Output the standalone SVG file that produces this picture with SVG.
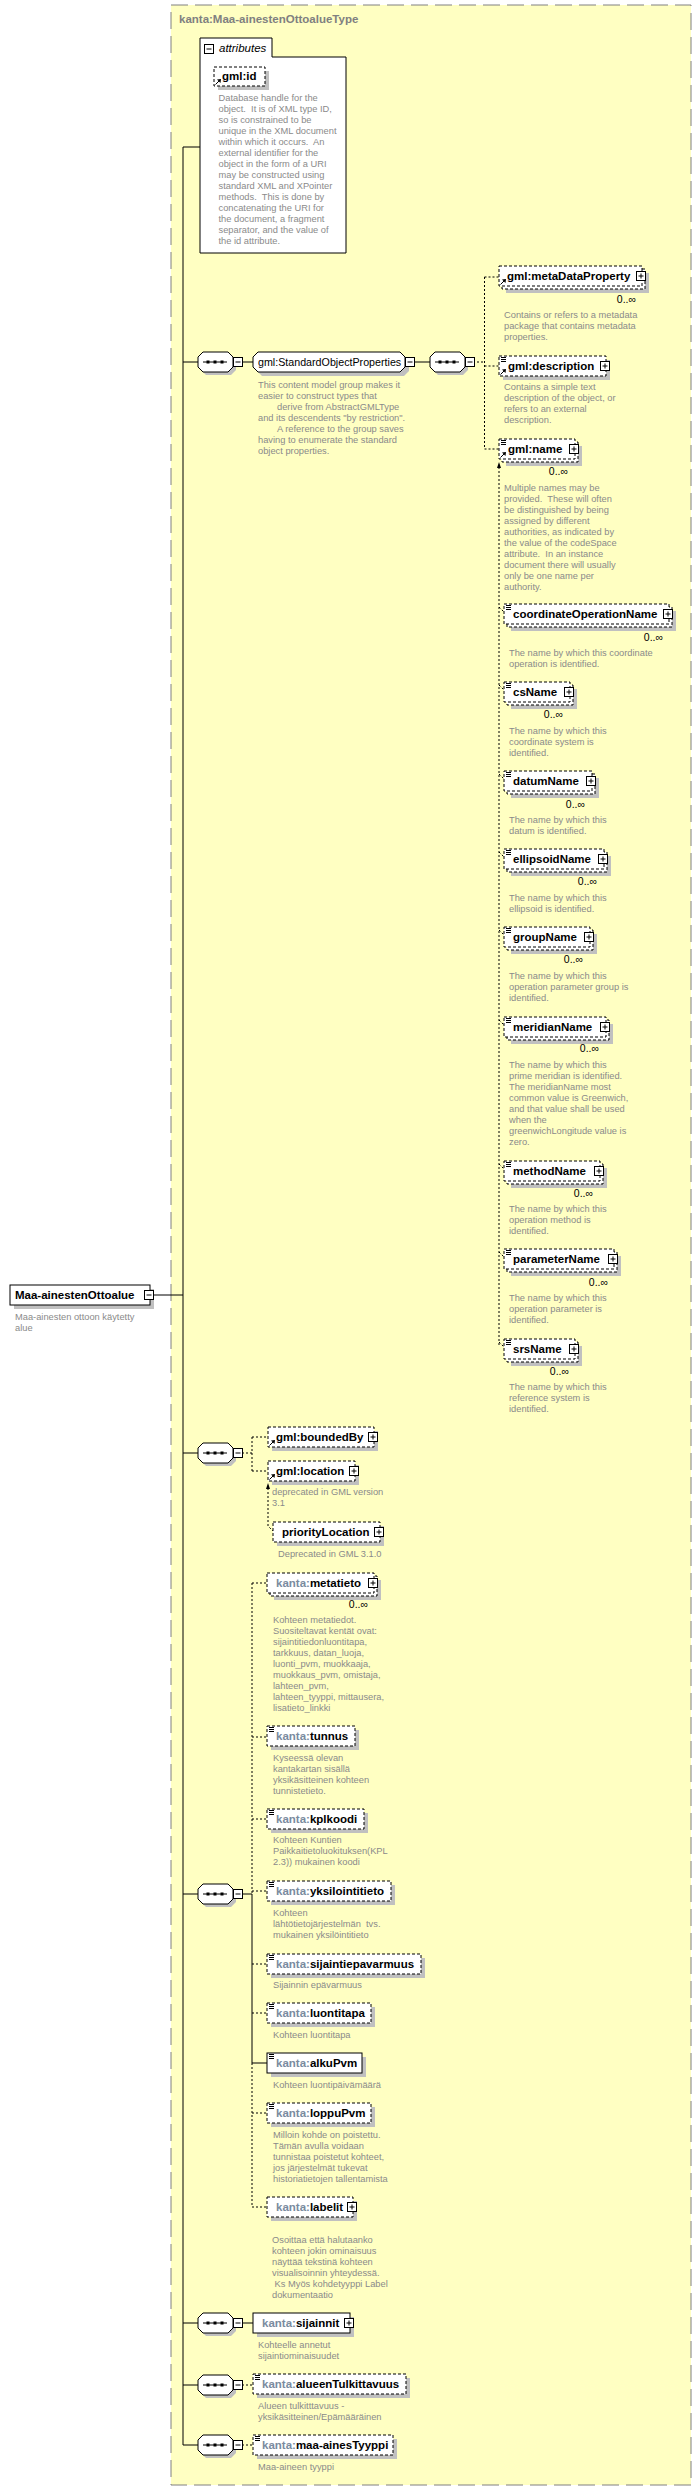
<svg xmlns="http://www.w3.org/2000/svg" width="700" height="2490" viewBox="0 0 700 2490">
<style>
.bg{fill:#ffffc2;stroke:#808080;stroke-dasharray:17,7}
.box{fill:#fff;stroke:#000;stroke-width:1}
.opt{stroke-dasharray:3,2}
.shd{fill:#c0c0c0}
.nm{font-family:"Liberation Sans",Arial,sans-serif;font-weight:bold;font-size:11.5px;fill:#000}
.gn{font-family:"Liberation Sans",Arial,sans-serif;font-size:10.7px;fill:#000}
.pfx{fill:#7a8ba0}
.ttl{font-family:"Liberation Sans",Arial,sans-serif;font-weight:bold;font-size:11.5px;fill:#808080}
.it{font-family:"Liberation Sans",Arial,sans-serif;font-style:italic;font-size:11.5px;fill:#000}
.ds{font-family:"Liberation Sans",Arial,sans-serif;font-size:9.3px;fill:#8a8a8a;white-space:pre}
.mul{font-family:"Liberation Sans",Arial,sans-serif;font-size:10.5px;fill:#000;text-anchor:end}
.ln{fill:none;stroke:#000;stroke-width:1}
.dl{fill:none;stroke:#000;stroke-width:1;stroke-dasharray:2,2}
.ico{fill:none;stroke:#000;stroke-width:1}
</style>
<defs>
<g id="plus"><rect x="0.5" y="0.5" width="9" height="9" fill="#fff" stroke="#000"/><path d="M2.5,5H7.5M5,2.5V7.5" stroke="#000"/></g>
<g id="minus"><rect x="0.5" y="0.5" width="9" height="9" fill="#fff" stroke="#000"/><path d="M2.5,5H7.5" stroke="#000"/></g>
<g id="seq">
<path d="M8,3H33L38,8V18L33,23H8L3,18V8Z" fill="#c0c0c0"/>
<path d="M5,0H30L35,5V15L30,20H5L0,15V5Z" fill="#fff" stroke="#000"/>
<path d="M5,10H29" stroke="#000"/>
<rect x="8.5" y="8.5" width="3" height="3" fill="#000"/><rect x="15.5" y="8.5" width="3" height="3" fill="#000"/><rect x="22.5" y="8.5" width="3" height="3" fill="#000"/>
<use href="#minus" x="35" y="5"/>
</g>
<path id="txt" d="M2,1.5h5M2,3.5h5M2,5.5h5" fill="none" stroke="#000"/>
<g id="ref"><path d="M1.5,-1.5L5,-5" stroke="#000" fill="none"/><polygon points="7,-7 3,-6.5 6.5,-3" fill="#000"/></g>
</defs>

<rect class="bg" x="171" y="5" width="520" height="2480"/>
<text class="ttl" x="179" y="23">kanta:Maa-ainestenOttoalueType</text>

<g id="connectors">
<path class="ln" d="M200,147H183V2445H198"/>
<path class="ln" d="M153,1295H183M183,362H198M183,1453H198M183,1894H198M183,2323H198M183,2385H198"/>
<path class="ln" d="M242,362H253M414,362H430"/>
<path class="dl" d="M473,362H484.5M484.5,277V449M484.5,277H499M484.5,366H499M484.5,449H499"/>
<path class="dl" d="M499,467V1345"/>
<polygon points="499,462 497,468 501,468" fill="#000"/>
<path class="dl" d="M499,607L504,612M499,685L504,690M499,774L504,779M499,852L504,857M499,930L504,935M499,1020L504,1025M499,1164L504,1169M499,1252L504,1257M499,1342L504,1347"/>
<path class="dl" d="M242,1453H252M252,1437V1471M252,1437H268M252,1471H268"/>
<path class="dl" d="M268,1488V1526L273,1531"/>
<polygon points="268,1483 266,1489 270,1489" fill="#000"/>
<path class="ln" d="M242,1894H252V2063H267"/>
<path class="dl" d="M252,1583V1894M252,2063V2207M252,1583H267M252,1737H267M252,1819H267M252,1891H267M252,1964H267M252,2013H267M252,2113H267M252,2207H267"/>
<path class="ln" d="M242,2323H253"/>
<path class="dl" d="M242,2385H253M242,2445H253"/>
</g>

<g id="root">
<rect class="shd" x="14" y="1289" width="140" height="20"/>
<rect class="box" x="10" y="1285" width="140" height="20"/>
<text class="nm" x="15" y="1299">Maa-ainestenOttoalue</text>
<use href="#minus" x="144" y="1290"/>
<text class="ds" x="15" y="1320">Maa-ainesten ottoon käytetty<tspan x="15" dy="11">alue</tspan></text>
</g>

<g id="attributes">
<path class="box" d="M200,253V38H272V57H346V253Z"/>
<use href="#minus" x="204" y="44"/>
<text class="it" x="219" y="52">attributes</text>
</g>

<g id="e-gml-id">
<rect class="shd" x="218" y="71" width="51" height="19"/>
<rect class="box opt" x="214" y="67" width="51" height="19"/>
<use href="#ref" x="214" y="86"/>
<text class="nm" x="222" y="80">gml:id</text>
<text class="ds" x="218.5" y="101">Database handle for the<tspan x="218.5" dy="11">object.  It is of XML type ID,</tspan><tspan x="218.5" dy="11">so is constrained to be</tspan><tspan x="218.5" dy="11">unique in the XML document</tspan><tspan x="218.5" dy="11">within which it occurs.  An</tspan><tspan x="218.5" dy="11">external identifier for the</tspan><tspan x="218.5" dy="11">object in the form of a URI</tspan><tspan x="218.5" dy="11">may be constructed using</tspan><tspan x="218.5" dy="11">standard XML and XPointer</tspan><tspan x="218.5" dy="11">methods.  This is done by</tspan><tspan x="218.5" dy="11">concatenating the URI for</tspan><tspan x="218.5" dy="11">the document, a fragment</tspan><tspan x="218.5" dy="11">separator, and the value of</tspan><tspan x="218.5" dy="11">the id attribute.</tspan></text>
</g>

<g id="seq-1"><use href="#seq" x="198" y="352"/></g>

<g id="g-StandardObjectProperties">
<path class="shd" d="M262,356H404L409,361V371L404,376H262L257,371V361Z"/>
<path class="box" d="M258,352H400L405,357V367L400,372H258L253,367V357Z"/>
<text class="gn" x="258" y="366">gml:StandardObjectProperties</text>
<use href="#minus" x="405" y="357"/>
<text class="ds" x="258" y="388">This content model group makes it<tspan x="258" dy="11">easier to construct types that</tspan><tspan x="277" dy="11">derive from AbstractGMLType</tspan><tspan x="258" dy="11">and its descendents "by restriction".</tspan><tspan x="277" dy="11">A reference to the group saves</tspan><tspan x="258" dy="11">having to enumerate the standard</tspan><tspan x="258" dy="11">object properties.</tspan></text>
</g>

<g id="seq-2"><use href="#seq" x="430" y="352"/></g>

<g id="e-metaDataProperty">
<rect class="shd" x="506" y="273" width="143" height="20"/>
<rect class="box opt" x="502" y="269" width="143" height="20"/>
<rect class="box opt" x="499" y="266" width="143" height="20"/>
<use href="#ref" x="499" y="286"/>
<text class="nm" x="507" y="280">gml:metaDataProperty</text>
<use href="#plus" x="636" y="271"/>
<text class="mul" x="636" y="303">0..∞</text>
<text class="ds" x="504" y="318">Contains or refers to a metadata<tspan x="504" dy="11">package that contains metadata</tspan><tspan x="504" dy="11">properties.</tspan></text>
</g>

<g id="e-description">
<rect class="shd" x="503" y="360" width="107" height="20"/>
<rect class="box opt" x="499" y="356" width="107" height="20"/>
<use href="#txt" x="499" y="356"/>
<use href="#ref" x="499" y="376"/>
<text class="nm" x="508" y="370">gml:description</text>
<use href="#plus" x="600" y="361"/>
<text class="ds" x="504" y="390">Contains a simple text<tspan x="504" dy="11">description of the object, or</tspan><tspan x="504" dy="11">refers to an external</tspan><tspan x="504" dy="11">description.</tspan></text>
</g>

<g id="e-name">
<rect class="shd" x="506" y="446" width="76" height="20"/>
<rect class="box opt" x="502" y="442" width="76" height="20"/>
<rect class="box opt" x="499" y="439" width="76" height="20"/>
<use href="#txt" x="499" y="439"/>
<use href="#ref" x="499" y="459"/>
<text class="nm" x="508" y="453">gml:name</text>
<use href="#plus" x="569" y="444"/>
<text class="mul" x="568" y="475">0..∞</text>
<text class="ds" x="504" y="491">Multiple names may be<tspan x="504" dy="11">provided.  These will often</tspan><tspan x="504" dy="11">be distinguished by being</tspan><tspan x="504" dy="11">assigned by different</tspan><tspan x="504" dy="11">authorities, as indicated by</tspan><tspan x="504" dy="11">the value of the codeSpace</tspan><tspan x="504" dy="11">attribute.  In an instance</tspan><tspan x="504" dy="11">document there will usually</tspan><tspan x="504" dy="11">only be one name per</tspan><tspan x="504" dy="11">authority.</tspan></text>
</g>

<g id="e-coordinateOperationName">
<rect class="shd" x="511" y="611" width="165" height="20"/>
<rect class="box opt" x="507" y="607" width="165" height="20"/>
<rect class="box opt" x="504" y="604" width="165" height="20"/>
<use href="#txt" x="504" y="604"/>
<text class="nm" x="513" y="618">coordinateOperationName</text>
<use href="#plus" x="663" y="609"/>
<text class="mul" x="663" y="641">0..∞</text>
<text class="ds" x="509" y="656">The name by which this coordinate<tspan x="509" dy="11">operation is identified.</tspan></text>
</g>

<g id="e-csName">
<rect class="shd" x="511" y="689" width="66" height="20"/>
<rect class="box opt" x="507" y="685" width="66" height="20"/>
<rect class="box opt" x="504" y="682" width="66" height="20"/>
<use href="#txt" x="504" y="682"/>
<text class="nm" x="513" y="696">csName</text>
<use href="#plus" x="564" y="687"/>
<text class="mul" x="563" y="718">0..∞</text>
<text class="ds" x="509" y="734">The name by which this<tspan x="509" dy="11">coordinate system is</tspan><tspan x="509" dy="11">identified.</tspan></text>
</g>

<g id="e-datumName">
<rect class="shd" x="511" y="778" width="88" height="20"/>
<rect class="box opt" x="507" y="774" width="88" height="20"/>
<rect class="box opt" x="504" y="771" width="88" height="20"/>
<use href="#txt" x="504" y="771"/>
<text class="nm" x="513" y="785">datumName</text>
<use href="#plus" x="586" y="776"/>
<text class="mul" x="585" y="808">0..∞</text>
<text class="ds" x="509" y="823">The name by which this<tspan x="509" dy="11">datum is identified.</tspan></text>
</g>

<g id="e-ellipsoidName">
<rect class="shd" x="511" y="856" width="100" height="20"/>
<rect class="box opt" x="507" y="852" width="100" height="20"/>
<rect class="box opt" x="504" y="849" width="100" height="20"/>
<use href="#txt" x="504" y="849"/>
<text class="nm" x="513" y="863">ellipsoidName</text>
<use href="#plus" x="598" y="854"/>
<text class="mul" x="597" y="885">0..∞</text>
<text class="ds" x="509" y="901">The name by which this<tspan x="509" dy="11">ellipsoid is identified.</tspan></text>
</g>

<g id="e-groupName">
<rect class="shd" x="511" y="934" width="86" height="20"/>
<rect class="box opt" x="507" y="930" width="86" height="20"/>
<rect class="box opt" x="504" y="927" width="86" height="20"/>
<use href="#txt" x="504" y="927"/>
<text class="nm" x="513" y="941">groupName</text>
<use href="#plus" x="584" y="932"/>
<text class="mul" x="583" y="963">0..∞</text>
<text class="ds" x="509" y="979">The name by which this<tspan x="509" dy="11">operation parameter group is</tspan><tspan x="509" dy="11">identified.</tspan></text>
</g>

<g id="e-meridianName">
<rect class="shd" x="511" y="1024" width="102" height="20"/>
<rect class="box opt" x="507" y="1020" width="102" height="20"/>
<rect class="box opt" x="504" y="1017" width="102" height="20"/>
<use href="#txt" x="504" y="1017"/>
<text class="nm" x="513" y="1031">meridianName</text>
<use href="#plus" x="600" y="1022"/>
<text class="mul" x="599" y="1052">0..∞</text>
<text class="ds" x="509" y="1068">The name by which this<tspan x="509" dy="11">prime meridian is identified.</tspan><tspan x="509" dy="11">The meridianName most</tspan><tspan x="509" dy="11">common value is Greenwich,</tspan><tspan x="509" dy="11">and that value shall be used</tspan><tspan x="509" dy="11">when the</tspan><tspan x="509" dy="11">greenwichLongitude value is</tspan><tspan x="509" dy="11">zero.</tspan></text>
</g>

<g id="e-methodName">
<rect class="shd" x="511" y="1168" width="96" height="20"/>
<rect class="box opt" x="507" y="1164" width="96" height="20"/>
<rect class="box opt" x="504" y="1161" width="96" height="20"/>
<use href="#txt" x="504" y="1161"/>
<text class="nm" x="513" y="1175">methodName</text>
<use href="#plus" x="594" y="1166"/>
<text class="mul" x="593" y="1197">0..∞</text>
<text class="ds" x="509" y="1212">The name by which this<tspan x="509" dy="11">operation method is</tspan><tspan x="509" dy="11">identified.</tspan></text>
</g>

<g id="e-parameterName">
<rect class="shd" x="511" y="1256" width="110" height="20"/>
<rect class="box opt" x="507" y="1252" width="110" height="20"/>
<rect class="box opt" x="504" y="1249" width="110" height="20"/>
<use href="#txt" x="504" y="1249"/>
<text class="nm" x="513" y="1263">parameterName</text>
<use href="#plus" x="608" y="1254"/>
<text class="mul" x="608" y="1286">0..∞</text>
<text class="ds" x="509" y="1301">The name by which this<tspan x="509" dy="11">operation parameter is</tspan><tspan x="509" dy="11">identified.</tspan></text>
</g>

<g id="e-srsName">
<rect class="shd" x="511" y="1346" width="71" height="20"/>
<rect class="box opt" x="507" y="1342" width="71" height="20"/>
<rect class="box opt" x="504" y="1339" width="71" height="20"/>
<use href="#txt" x="504" y="1339"/>
<text class="nm" x="513" y="1353">srsName</text>
<use href="#plus" x="569" y="1344"/>
<text class="mul" x="569" y="1375">0..∞</text>
<text class="ds" x="509" y="1390">The name by which this<tspan x="509" dy="11">reference system is</tspan><tspan x="509" dy="11">identified.</tspan></text>
</g>

<g id="seq-3"><use href="#seq" x="198" y="1443"/></g>

<g id="e-boundedBy">
<rect class="shd" x="272" y="1431" width="106" height="20"/>
<rect class="box opt" x="268" y="1427" width="106" height="20"/>
<use href="#ref" x="268" y="1447"/>
<text class="nm" x="276" y="1441">gml:boundedBy</text>
<use href="#plus" x="368" y="1432"/>
</g>

<g id="e-location">
<rect class="shd" x="272" y="1465" width="87" height="20"/>
<rect class="box opt" x="268" y="1461" width="87" height="20"/>
<use href="#ref" x="268" y="1481"/>
<text class="nm" x="276" y="1475">gml:location</text>
<use href="#plus" x="349" y="1466"/>
<text class="ds" x="272" y="1495">deprecated in GML version<tspan x="272" dy="11">3.1</tspan></text>
</g>

<g id="e-priorityLocation">
<rect class="shd" x="277" y="1526" width="107" height="20"/>
<rect class="box opt" x="273" y="1522" width="107" height="20"/>
<text class="nm" x="282" y="1536">priorityLocation</text>
<use href="#plus" x="374" y="1527"/>
<text class="ds" x="278" y="1557">Deprecated in GML 3.1.0</text>
</g>

<g id="seq-4"><use href="#seq" x="198" y="1884"/></g>

<g id="e-metatieto">
<rect class="shd" x="274" y="1580" width="107" height="20"/>
<rect class="box opt" x="270" y="1576" width="107" height="20"/>
<rect class="box opt" x="267" y="1573" width="107" height="20"/>
<text class="nm" x="276" y="1587"><tspan class="pfx">kanta:</tspan>metatieto</text>
<use href="#plus" x="368" y="1578"/>
<text class="mul" x="368" y="1608">0..∞</text>
<text class="ds" x="273" y="1623">Kohteen metatiedot.<tspan x="273" dy="11">Suositeltavat kentät ovat:</tspan><tspan x="273" dy="11">sijaintitiedonluontitapa,</tspan><tspan x="273" dy="11">tarkkuus, datan_luoja,</tspan><tspan x="273" dy="11">luonti_pvm, muokkaaja,</tspan><tspan x="273" dy="11">muokkaus_pvm, omistaja,</tspan><tspan x="273" dy="11">lahteen_pvm,</tspan><tspan x="273" dy="11">lahteen_tyyppi, mittausera,</tspan><tspan x="273" dy="11">lisatieto_linkki</tspan></text>
</g>

<g id="e-tunnus">
<rect class="shd" x="271" y="1730" width="88" height="20"/>
<rect class="box opt" x="267" y="1726" width="88" height="20"/>
<use href="#txt" x="267" y="1726"/>
<text class="nm" x="276" y="1740"><tspan class="pfx">kanta:</tspan>tunnus</text>
<text class="ds" x="273" y="1761">Kyseessä olevan<tspan x="273" dy="11">kantakartan sisällä</tspan><tspan x="273" dy="11">yksikäsitteinen kohteen</tspan><tspan x="273" dy="11">tunnistetieto.</tspan></text>
</g>

<g id="e-kplkoodi">
<rect class="shd" x="271" y="1813" width="97" height="20"/>
<rect class="box opt" x="267" y="1809" width="97" height="20"/>
<use href="#txt" x="267" y="1809"/>
<text class="nm" x="276" y="1823"><tspan class="pfx">kanta:</tspan>kplkoodi</text>
<text class="ds" x="273" y="1843">Kohteen Kuntien<tspan x="273" dy="11">Paikkaitietoluokituksen(KPL</tspan><tspan x="273" dy="11">2.3)) mukainen koodi</tspan></text>
</g>

<g id="e-yksilointitieto">
<rect class="shd" x="271" y="1885" width="124" height="20"/>
<rect class="box opt" x="267" y="1881" width="124" height="20"/>
<use href="#txt" x="267" y="1881"/>
<text class="nm" x="276" y="1895"><tspan class="pfx">kanta:</tspan>yksilointitieto</text>
<text class="ds" x="273" y="1916">Kohteen<tspan x="273" dy="11">lähtötietojärjestelmän  tvs.</tspan><tspan x="273" dy="11">mukainen yksilöintitieto</tspan></text>
</g>

<g id="e-sijaintiepavarmuus">
<rect class="shd" x="271" y="1958" width="154" height="20"/>
<rect class="box opt" x="267" y="1954" width="154" height="20"/>
<use href="#txt" x="267" y="1954"/>
<text class="nm" x="276" y="1968"><tspan class="pfx">kanta:</tspan>sijaintiepavarmuus</text>
<text class="ds" x="273" y="1988">Sijainnin epävarmuus</text>
</g>

<g id="e-luontitapa">
<rect class="shd" x="271" y="2007" width="104" height="20"/>
<rect class="box opt" x="267" y="2003" width="104" height="20"/>
<use href="#txt" x="267" y="2003"/>
<text class="nm" x="276" y="2017"><tspan class="pfx">kanta:</tspan>luontitapa</text>
<text class="ds" x="273" y="2038">Kohteen luontitapa</text>
</g>

<g id="e-alkuPvm">
<rect class="shd" x="271" y="2057" width="95" height="20"/>
<rect class="box" x="267" y="2053" width="95" height="20"/>
<use href="#txt" x="267" y="2053"/>
<text class="nm" x="276" y="2067"><tspan class="pfx">kanta:</tspan>alkuPvm</text>
<text class="ds" x="273" y="2088">Kohteen luontipäivämäärä</text>
</g>

<g id="e-loppuPvm">
<rect class="shd" x="271" y="2107" width="104" height="20"/>
<rect class="box opt" x="267" y="2103" width="104" height="20"/>
<use href="#txt" x="267" y="2103"/>
<text class="nm" x="276" y="2117"><tspan class="pfx">kanta:</tspan>loppuPvm</text>
<text class="ds" x="273" y="2138">Milloin kohde on poistettu.<tspan x="273" dy="11">Tämän avulla voidaan</tspan><tspan x="273" dy="11">tunnistaa poistetut kohteet,</tspan><tspan x="273" dy="11">jos järjestelmät tukevat</tspan><tspan x="273" dy="11">historiatietojen tallentamista</tspan></text>
</g>

<g id="e-labelit">
<rect class="shd" x="271" y="2201" width="86" height="20"/>
<rect class="box opt" x="267" y="2197" width="86" height="20"/>
<text class="nm" x="276" y="2211"><tspan class="pfx">kanta:</tspan>labelit</text>
<use href="#plus" x="347" y="2202"/>
<text class="ds" x="272" y="2243">Osoittaa että halutaanko<tspan x="272" dy="11">kohteen jokin ominaisuus</tspan><tspan x="272" dy="11">näyttää tekstinä kohteen</tspan><tspan x="272" dy="11">visualisoinnin yhteydessä.</tspan><tspan x="272" dy="11"> Ks Myös kohdetyyppi Label</tspan><tspan x="272" dy="11">dokumentaatio</tspan></text>
</g>

<g id="seq-5"><use href="#seq" x="198" y="2313"/></g>

<g id="e-sijainnit">
<rect class="shd" x="257" y="2317" width="97" height="20"/>
<rect class="box" x="253" y="2313" width="97" height="20"/>
<text class="nm" x="262" y="2327"><tspan class="pfx">kanta:</tspan>sijainnit</text>
<use href="#plus" x="344" y="2318"/>
<text class="ds" x="258" y="2348">Kohteelle annetut<tspan x="258" dy="11">sijaintiominaisuudet</tspan></text>
</g>

<g id="seq-6"><use href="#seq" x="198" y="2375"/></g>

<g id="e-alueenTulkittavuus">
<rect class="shd" x="257" y="2378" width="153" height="20"/>
<rect class="box opt" x="253" y="2374" width="153" height="20"/>
<use href="#txt" x="253" y="2374"/>
<text class="nm" x="262" y="2388"><tspan class="pfx">kanta:</tspan>alueenTulkittavuus</text>
<text class="ds" x="258" y="2409">Alueen tulkitttavuus -<tspan x="258" dy="11">yksikäsitteinen/Epämääräinen</tspan></text>
</g>

<g id="seq-7"><use href="#seq" x="198" y="2435"/></g>

<g id="e-maa-ainesTyyppi">
<rect class="shd" x="257" y="2439" width="140" height="20"/>
<rect class="box opt" x="253" y="2435" width="140" height="20"/>
<use href="#txt" x="253" y="2435"/>
<text class="nm" x="262" y="2449"><tspan class="pfx">kanta:</tspan>maa-ainesTyyppi</text>
<text class="ds" x="258" y="2470">Maa-aineen tyyppi</text>
</g>
</svg>
